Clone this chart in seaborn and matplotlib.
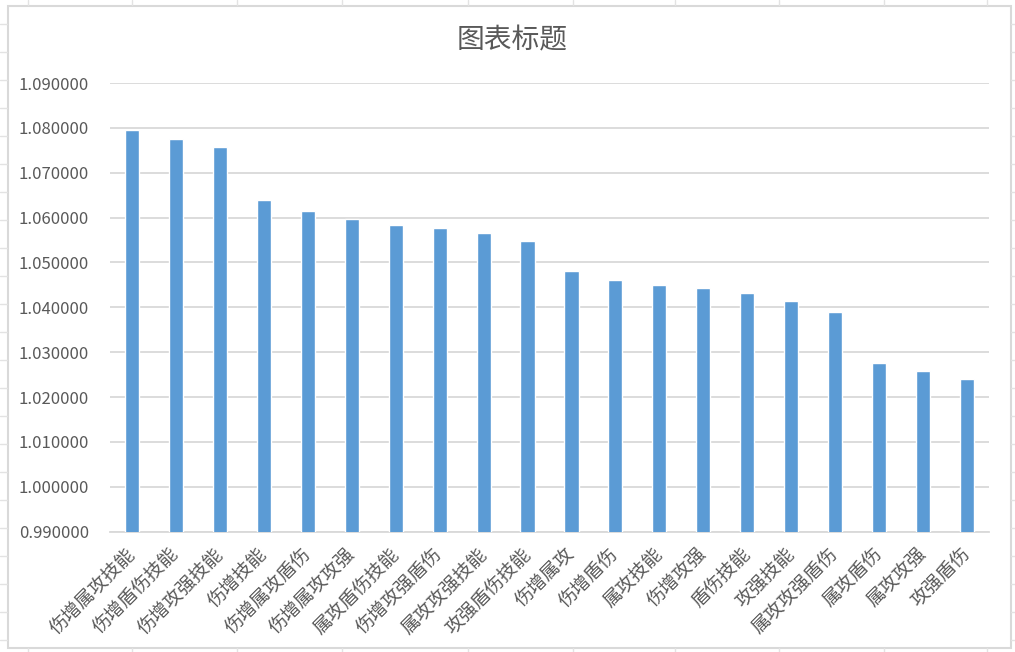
import matplotlib
matplotlib.use("Agg")
import matplotlib.pyplot as plt
import seaborn as sns
import pandas as pd
from matplotlib.lines import Line2D
from matplotlib.patches import Rectangle

# values
labels = ['伤增属攻技能', '伤增盾伤技能', '伤增攻强技能', '伤增技能', '伤增属攻盾伤',
          '伤增属攻攻强', '属攻盾伤技能', '伤增攻强盾伤', '属攻攻强技能', '攻强盾伤技能',
          '伤增属攻', '伤增盾伤', '属攻技能', '伤增攻强', '盾伤技能',
          '攻强技能', '属攻攻强盾伤', '属攻盾伤', '属攻攻强', '攻强盾伤']
values = [1.0795, 1.0775, 1.0757, 1.0639, 1.0615,
          1.0597, 1.0584, 1.0577, 1.0566, 1.0548,
          1.0482, 1.0462, 1.0450, 1.0444, 1.0433,
          1.0415, 1.0390, 1.0277, 1.0259, 1.0241]
yticks = [0.99, 1.00, 1.01, 1.02, 1.03, 1.04, 1.05, 1.06, 1.07, 1.08, 1.09]
title = '图表标题'

df = pd.DataFrame({'name': labels, 'value': values})

sns.set_style('white')
plt.rcParams['font.family'] = ['Noto Sans CJK SC', 'DejaVu Sans']

W, H = 1015, 652
fig = plt.figure(figsize=(W / 100, H / 100), dpi=100)
ax = fig.add_axes([110 / W, 1 - 531.7 / H, (989 - 110) / W, (531.7 - 83) / H])

sns.barplot(data=df, x='name', y='value', color='#5B9BD5', width=0.32,
            saturation=1, ax=ax, zorder=3)

ax.set_ylim(0.99, 1.09)
ax.set_xlim(-0.5, len(labels) - 0.5)
ax.set_yticks(yticks)
ax.set_yticklabels([f'{t:.6f}' for t in yticks])
ax.yaxis.grid(True, color='#d9d9d9', linewidth=1.3, zorder=0)
ax.set_axisbelow(True)
for s in ['top', 'right', 'left']:
    ax.spines[s].set_visible(False)
ax.spines['bottom'].set_color('#d9d9d9')
ax.spines['bottom'].set_linewidth(1.3)
ax.set_xlabel('')
ax.set_ylabel('')
ax.tick_params(axis='y', length=0, pad=15, labelsize=12, labelcolor='#595959')
ax.tick_params(axis='x', length=0, pad=14, labelsize=13.5, labelcolor='#595959')
for lab in ax.get_xticklabels():
    lab.set_rotation(45)
    lab.set_ha('right')
    lab.set_va('center')
    lab.set_rotation_mode('anchor')

fig.text(512 / W, 1 - 40 / H, title, ha='center', va='center',
         fontsize=20, color='#595959')

# spreadsheet cells behind the chart
cell = '#e3e3e3'
for x in [28, 132, 237, 342, 468, 573, 675, 779, 884, 987]:
    fig.add_artist(Line2D([x / W, x / W], [1, 1 - 5 / H], color=cell, lw=1))
    fig.add_artist(Line2D([x / W, x / W], [0, 4 / H], color=cell, lw=1))
for y in range(24, 650, 28):
    fig.add_artist(Line2D([0, 7 / W], [1 - y / H, 1 - y / H], color=cell, lw=1))
    fig.add_artist(Line2D([1011 / W, 1], [1 - y / H, 1 - y / H], color=cell, lw=1))

# chart border
fig.add_artist(Rectangle((7.5 / W, 4 / H), (1011 - 7.5) / W, (647 - 5) / H,
                         transform=fig.transFigure, fill=False,
                         edgecolor='#d9d9d9', lw=1.5))

fig.savefig('out.png', dpi=100, facecolor='white')
